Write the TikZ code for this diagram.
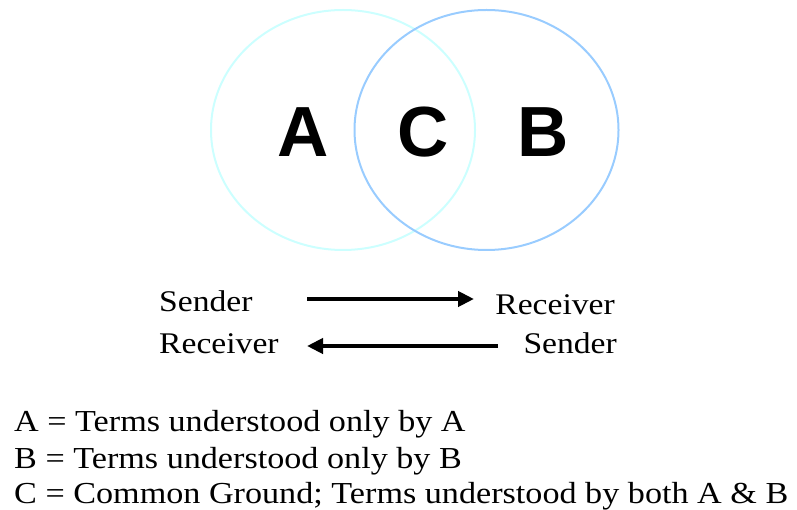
\documentclass[tikz,border=0pt]{standalone}
\usepackage{fontspec}
\setmainfont[FakeStretch=1.12]{Liberation Serif}
\newfontfamily\letterfont{Liberation Sans}
\usetikzlibrary{shapes.geometric,arrows.meta}
\definecolor{circA}{HTML}{CCFFFF}
\definecolor{circB}{HTML}{99CCFF}
\tikzset{
  venn/.style={ellipse, draw, line width=2pt, minimum width=264pt, minimum height=240pt, inner sep=0pt},
  bigletter/.style={font=\letterfont\bfseries\fontsize{71}{71}\selectfont, inner sep=0pt},
  role/.style={font=\fontsize{30}{30}\selectfont, inner sep=0pt},
  legend/.style={font=\fontsize{30.5}{30.5}\selectfont, inner sep=0pt, anchor=base west},
  flow/.style={line width=4.5pt, -{Triangle[length=16pt,width=15pt]}}
}
\begin{document}
\begin{tikzpicture}[x=1pt,y=-1pt]
\useasboundingbox (0,0) rectangle (797,510);
\node[venn, draw=circA] (ca) at (343,130) {};
\node[venn, draw=circB] (cb) at (486.5,130) {};
\node[bigletter] (la) at (303,132) {A};
\node[bigletter] (lc) at (423,132) {C};
\node[bigletter] (lb) at (543.5,132) {B};
\node[role, anchor=base west] (s1) at (159,312) {Sender};
\node[role, anchor=base east] (r1) at (615,315) {Receiver};
\node[role, anchor=base west] (r2) at (159,353) {Receiver};
\node[role, anchor=base east] (s2) at (617,353) {Sender};
\coordinate (a1s) at (307,299);
\coordinate (a1e) at (474,299);
\coordinate (a2s) at (498,346);
\coordinate (a2e) at (307,346);
\draw[flow] (a1s) -- (a1e);
\draw[flow] (a2s) -- (a2e);
\node[legend] (ta) at (14,431) {A = Terms understood only by A};
\node[legend] (tb) at (14,468) {B = Terms understood only by B};
\node[legend] (tc) at (14,503) {C = Common Ground; Terms understood by both A \& B};
\end{tikzpicture}
\end{document}
